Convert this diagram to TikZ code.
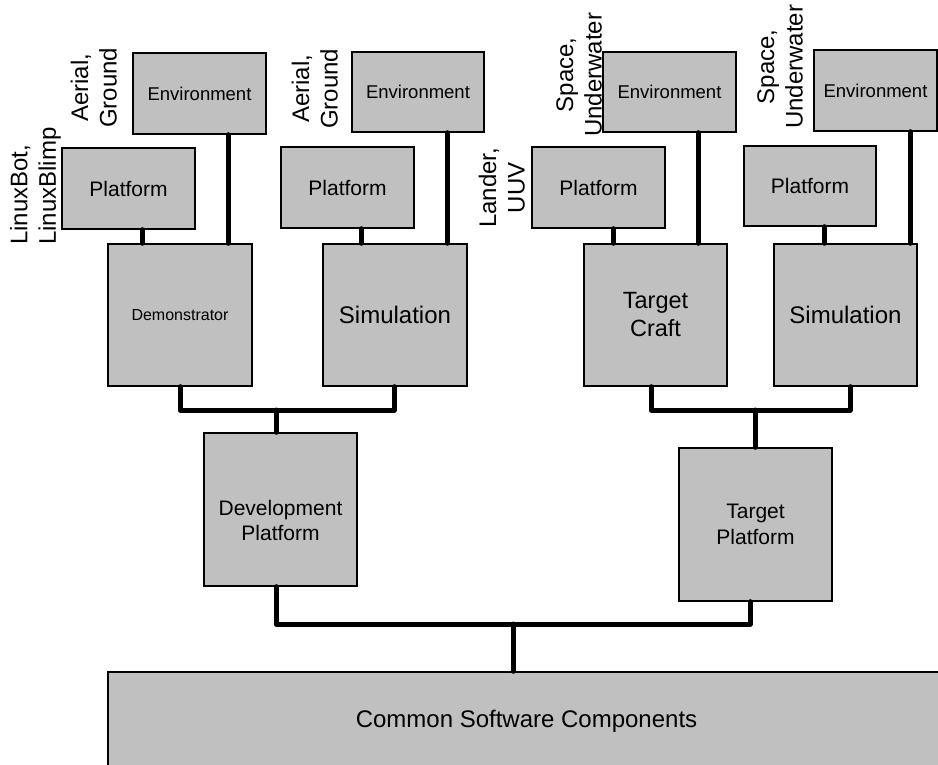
\documentclass[tikz,border=0pt]{standalone}
\usepackage{fontspec}
\setmainfont{Liberation Sans}
\definecolor{boxgray}{RGB}{192,192,192}
\tikzset{
  box/.style={draw, line width=1.4pt, fill=boxgray, inner sep=2pt, align=center},
  link/.style={line width=5pt, line cap=round, line join=round},
  side/.style={rotate=90, anchor=south west, inner sep=0pt, align=center, font=\fontsize{24}{28.5}\selectfont},
}
\begin{document}
\begin{tikzpicture}[x=1pt,y=-1pt]
	\useasboundingbox (0,0) rectangle (938,765);
	\node[box, minimum width=133pt, minimum height=81pt, font=\fontsize{18.5}{22}\selectfont] (env1) at (199.5,93.5) {Environment};
	\node[box, minimum width=133pt, minimum height=81pt, font=\fontsize{21}{25}\selectfont] (plat1) at (128.5,188.5) {Platform};
	\node[box, minimum width=144pt, minimum height=142pt, font=\fontsize{16}{19}\selectfont] (demo) at (180,315) {Demonstrator};
	\node[box, minimum width=132pt, minimum height=80pt, font=\fontsize{18.5}{22}\selectfont] (env2) at (418,92) {Environment};
	\node[box, minimum width=133pt, minimum height=81pt, font=\fontsize{21}{25}\selectfont] (plat2) at (347.5,187.5) {Platform};
	\node[box, minimum width=144pt, minimum height=142pt, font=\fontsize{24}{28}\selectfont] (sim1) at (395,315) {Simulation};
	\node[box, minimum width=153pt, minimum height=153pt] (dev) at (280.5,509.5) {};
	\node[font=\fontsize{21}{25.5}\selectfont, align=center] (devtext) at ([yshift=-11pt]dev.center) {Development\\Platform};
	\node[box, minimum width=133pt, minimum height=80pt, font=\fontsize{18.5}{22}\selectfont] (env3) at (669.5,92) {Environment};
	\node[box, minimum width=133pt, minimum height=81pt, font=\fontsize{21}{25}\selectfont] (plat3) at (598.5,187.5) {Platform};
	\node[box, minimum width=143pt, minimum height=142pt, font=\fontsize{23.5}{28}\selectfont] (craft) at (655.5,315) {Target\\Craft};
	\node[box, minimum width=123pt, minimum height=81pt, font=\fontsize{18.5}{22}\selectfont] (env4) at (875.5,90.5) {Environment};
	\node[box, minimum width=132pt, minimum height=80pt, font=\fontsize{21}{25}\selectfont] (plat4) at (810,186) {Platform};
	\node[box, minimum width=143pt, minimum height=142pt, font=\fontsize{24}{28}\selectfont] (sim2) at (845.5,315) {Simulation};
	\node[box, minimum width=153pt, minimum height=153pt, font=\fontsize{21}{26.5}\selectfont] (tplat) at (755.5,524.5) {Target\\Platform};
	\node[box, minimum width=837pt, minimum height=98pt, font=\fontsize{24}{28}\selectfont] (common) at (526.5,721) {Common Software Components};
	\node[side, align=left] (lab1) at (61,245) {LinuxBot,\\LinuxBlimp};
	\node[side] (lab2) at (117,128) {Aerial,\\Ground};
	\node[side] (lab3) at (338,129) {Aerial,\\Ground};
	\node[side] (lab4) at (525,228) {Lander,\\UUV};
	\node[side] (lab5) at (602,137) {Space,\\Underwater};
	\node[side] (lab6) at (803,129) {Space,\\Underwater};
	\coordinate (bus1) at (276,410);
	\coordinate (bus2) at (755,410);
	\coordinate (bus3) at (513,624);
	\draw[link] ([xshift=13.5pt]plat1.south) -- ([xshift=13.5pt]plat1.south |- demo.north);
	\draw[link] ([xshift=28.5pt]env1.south) -- ([xshift=28.5pt]env1.south |- demo.north);
	\draw[link] ([xshift=13.5pt]plat2.south) -- ([xshift=13.5pt]plat2.south |- sim1.north);
	\draw[link] ([xshift=29pt]env2.south) -- ([xshift=29pt]env2.south |- sim1.north);
	\draw[link] ([xshift=14.5pt]plat3.south) -- ([xshift=14.5pt]plat3.south |- craft.north);
	\draw[link] ([xshift=28.5pt]env3.south) -- ([xshift=28.5pt]env3.south |- craft.north);
	\draw[link] ([xshift=14pt]plat4.south) -- ([xshift=14pt]plat4.south |- sim2.north);
	\draw[link] ([xshift=34.5pt]env4.south) -- ([xshift=34.5pt]env4.south |- sim2.north);
	\draw[link] (demo.south) -- (demo.south |- bus1) -- ([xshift=-1pt]sim1.south |- bus1) -- ([xshift=-1pt]sim1.south);
	\draw[link] (bus1) -- (bus1 |- dev.north);
	\draw[link] ([xshift=-4.5pt]craft.south) -- ([xshift=-4.5pt]craft.south |- bus2) -- ([xshift=4.5pt]sim2.south |- bus2) -- ([xshift=4.5pt]sim2.south);
	\draw[link] (bus2) -- (bus2 |- tplat.north);
	\draw[link] ([xshift=-4.5pt]dev.south) -- ([xshift=-4.5pt]dev.south |- bus3) -- ([xshift=-5.5pt]tplat.south |- bus3) -- ([xshift=-5.5pt]tplat.south);
	\draw[link] (bus3) -- (bus3 |- common.north);
\end{tikzpicture}
\end{document}
